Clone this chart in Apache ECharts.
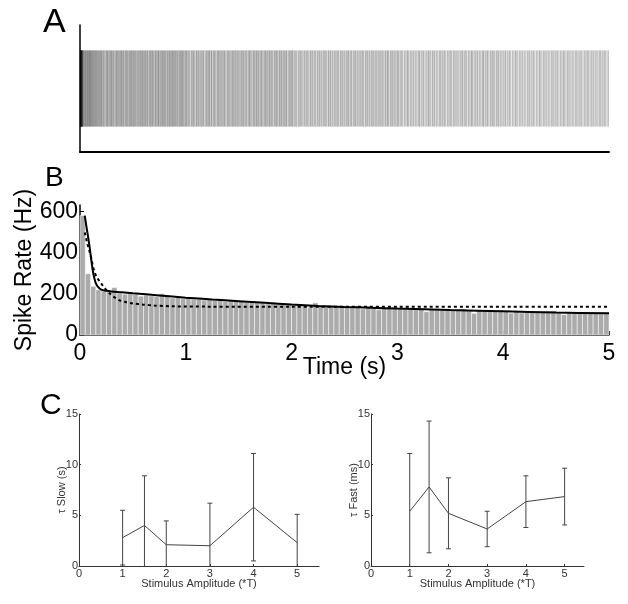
<!DOCTYPE html>
<html><head><meta charset="utf-8">
<script src="https://cdn.jsdelivr.net/npm/echarts@6/dist/echarts.min.js"></script>
<style>html,body{margin:0;padding:0;background:#fff}#c{width:628px;height:604px}</style>
</head><body><div id="c"></div><script>
// Panel A: spike times of the raster (ms)
const spikeTimesMs = [
3,4,5,6,7,8,9,10,11,12,13,14,15,16,17,18,19,20,21,23,25,27,30,33,37,41,45,49,
52,56,59,64,67,71,74,79,82,86,89,93,96,99,
103,107,111,114,118,123,126,130,135,139,143,147,
151,156,160,164,169,173,178,182,187,191,196,
200,205,207,215,219,225,228,235,244,247,252,258,260,267,271,279,284,287,293,
298,300,308,312,318,321,328,337,340,345,351,353,360,364,372,377,380,386,
391,393,401,405,411,414,421,430,433,438,444,446,453,457,465,470,473,479,484,486,494,498,
504,507,515,520,522,529,533,542,547,550,556,564,568,570,577,582,588,592,
596,602,607,614,616,620,628,634,637,642,651,655,662,664,669,677,680,686,
689,696,701,710,712,718,722,730,736,739,744,746,753,761,765,771,776,780,
786,789,797,802,804,811,815,824,829,832,838,846,850,852,859,864,870,874,
878,884,889,896,898,902,910,916,919,924,933,937,944,946,951,959,962,968,
971,978,983,992,994,1000,
1006,1009,1018,1023,1030,1033,1041,1052,1056,1062,1070,1072,1080,1085,1095,1101,1105,1112,
1119,1123,1129,1139,1144,1152,1154,1162,1168,1172,1183,1191,1194,1201,1206,1215,1218,1224,
1228,1237,1243,1245,1256,1261,1268,1271,1279,1285,1295,1299,1306,1309,1317,1322,1328,1336,
1342,1345,1354,1359,1366,1369,1377,1388,1392,1398,1406,1408,1416,1421,1431,1437,1441,1448,
1452,1461,1467,1469,1480,1485,1492,1495,1503,1509,1519,1523,1530,1533,1541,1546,1552,1560,
1567,1571,1577,1587,1592,1600,1602,1610,1616,1620,1631,1639,1642,1649,1654,1663,1666,1672,
1676,1685,1691,1693,1704,1709,1716,1719,1727,1733,1743,1747,1754,1757,1765,1770,1776,1784,
1790,1793,1802,1807,1814,1817,1825,1836,1840,1846,1854,1856,1864,1869,1879,1885,1889,1896,
1903,1907,1913,1923,1928,1936,1938,1946,1952,1956,1967,1975,1978,1985,1990,1999,
2003,2010,2013,2024,2030,2039,2043,2051,2063,2068,2075,2085,2088,2096,2102,2115,2120,2127,2136,2140,2150,2156,2164,2175,2180,2186,2195,2199,2210,2216,2224,2229,2241,2246,2253,2262,2266,2276,2282,2290,2301,2306,2314,2318,2327,2333,2345,2349,2357,2366,2369,2380,2386,2394,2405,2410,2417,2427,2431,2439,2444,2457,2462,2470,2478,2483,2493,2499,2507,2517,2522,2529,2538,2541,2552,2558,2566,2571,2583,2588,2595,2604,2608,2618,2624,2632,2643,2648,2655,2665,2668,2676,2682,2695,2700,2707,2716,2720,2730,2736,2744,2755,2760,2767,2776,2780,2791,2797,2805,2810,2822,2827,2834,2843,2847,2857,2863,2871,2882,2887,2894,2904,2907,2915,2921,2934,2939,2946,2955,2959,2969,2975,2983,2994,2999,
3006,3010,3022,3029,3039,3044,3052,3066,3072,3081,3092,3095,3104,3111,3124,3130,3138,3148,3153,3165,3172,3181,3193,3199,3208,3212,3224,3231,3241,3246,3254,3268,3274,3283,3294,3297,3306,3313,3326,3332,3340,3350,3355,3367,3374,3383,3395,3401,3410,3414,3426,3433,3443,3448,3456,3470,3476,3485,3496,3499,3508,3515,3528,3534,3542,3552,3557,3569,3576,3585,3597,3603,3612,3616,3628,3635,3645,3650,3658,3672,3678,3687,3698,3701,3710,3717,3730,3736,3744,3754,3759,3771,3778,3787,3799,3805,3814,3818,3830,3837,3847,3852,3860,3874,3880,3889,3900,3903,3912,3919,3932,3938,3946,3956,3961,3973,3980,3989,3999,
4007,4017,4022,4035,4043,4054,4060,4069,4084,4091,4101,4113,4117,4127,4135,4149,4156,4165,4176,4182,4195,4203,4213,4226,4233,4243,4248,4261,4269,4280,4286,4295,4310,4317,4327,4339,4343,4353,4361,4375,4382,4391,4402,4408,4421,4429,4439,4452,4459,4469,4474,4487,4495,4506,4512,4521,4536,4543,4553,4565,4569,4579,4587,4601,4608,4617,4628,4634,4647,4655,4665,4678,4685,4695,4700,4713,4721,4732,4738,4747,4762,4769,4779,4791,4795,4805,4813,4827,4834,4843,4854,4860,4873,4881,4891,4904,4911,4921,4926,4939,4947,4958,4964,4973,4988,4995
];

// Panel B: histogram (50 ms bins, Hz) and fits
const BIN_S = 0.05;
const rateHz = [
579,297,236,219,213,209,230,203,198,207,
197,188,193,190,186,200,193,180,182,176,
182,174,176,170,173,168,171,164,167,170,
162,159,162,157,160,152,156,150,154,148,
145,147,142,133,156,139,137,140,136,138,
135,133,141,127,139,131,123,130,131,128,
129,127,130,125,127,113,124,122,125,121,
120,122,127,119,105,118,117,119,115,116,
114,106,113,107,112,111,113,109,115,116,
108,99,107,106,108,112,104,105,103,104
];
const solidFitT = [0.045,0.06,0.075,0.09,0.105,0.12,0.135,0.15,0.17,0.2,0.25,0.3,0.4,0.5,0.75,1,1.25,1.5,1.75,2,2.25,2.5,2.75,3,3.5,4,4.5,5];
const solidFitHz = [579,528,480,430,371,315,276,250,233,220,214,211,207,202,192,181,172,164,156,148,141,136,132,128,121,115,109,105];
const dashedFitT = [0.045,0.07,0.09,0.106,0.12,0.137,0.16,0.2,0.24,0.28,0.32,0.37,0.43,0.5,0.6,0.7,0.87,1.2,2,3,4,5];
const dashedFitHz = [497,441,405,373,338,306,279,250,223,202,185,169,160,153,147,143,139,137.5,137,137,137,137];

// Panel C
const ampLevels = [1, 1.5, 2, 3, 4, 5];
const tauSlowMean = [2.8, 4.0, 2.1, 2.0, 5.8, 2.3];
const tauSlowErr  = [2.7, 4.9, 2.35, 4.2, 5.3, 2.8];
const tauFastMean = [5.4, 7.8, 5.2, 3.65, 6.35, 6.85];
const tauFastErr  = [5.7, 6.5, 3.5, 1.75, 2.55, 2.8];

const FONT = 'Liberation Sans, Arial, Helvetica, sans-serif';
const chart = echarts.init(document.getElementById('c'), null, {renderer: 'canvas'});

function zip(a, b) { return a.map((v, i) => [v, b[i]]); }

function errRender(params, api) {
  const x = api.value(0), m = api.value(1), e = api.value(2);
  const lo = Math.max(m - e, 0), hi = m + e;
  const top = api.coord([x, hi]);
  const bot = api.coord([x, lo]);
  const st = {stroke: '#444', lineWidth: 1};
  const ch = [
    {type: 'line', shape: {x1: top[0], y1: top[1], x2: bot[0], y2: bot[1]}, style: st},
    {type: 'line', shape: {x1: top[0] - 2.5, y1: top[1], x2: top[0] + 2.5, y2: top[1]}, style: st}
  ];
  if (m - e > 0) ch.push({type: 'line', shape: {x1: bot[0] - 2.5, y1: bot[1], x2: bot[0] + 2.5, y2: bot[1]}, style: st});
  return {type: 'group', children: ch};
}

const cAxisText = {fontFamily: FONT, fontSize: 11, color: '#333'};

const option = {
  animation: false,
  backgroundColor: '#fff',
  textStyle: {fontFamily: FONT},
  grid: [
    {left: 80, top: 25, width: 529, height: 127, outerBoundsMode: 'none'},
    {left: 80, top: 205, width: 529, height: 130, outerBoundsMode: 'none'},
    {left: 79, top: 414, width: 240, height: 152, outerBoundsMode: 'none'},
    {left: 371, top: 414, width: 213, height: 152, outerBoundsMode: 'none'}
  ],
  xAxis: [
    {gridIndex: 0, type: 'value', min: 0, max: 5,
     axisLine: {show: true, lineStyle: {color: '#000', width: 2}},
     axisTick: {show: false}, axisLabel: {show: false}, splitLine: {show: false}},
    {gridIndex: 1, type: 'value', min: 0, max: 5, interval: 1,
     axisLine: {show: true, lineStyle: {color: '#000', width: 1.5}},
     axisTick: {show: true, inside: true, length: 4, lineStyle: {color: '#000'}},
     axisLabel: {fontFamily: FONT, fontSize: 23, color: '#000', margin: 7},
     splitLine: {show: false},
     name: 'Time (s)', nameLocation: 'middle', nameGap: 21, nameMoveOverlap: false,
     nameTextStyle: {fontFamily: FONT, fontSize: 23, color: '#000'}},
    {gridIndex: 2, type: 'value', min: 0, max: 5.5, interval: 1,
     axisLine: {show: true, lineStyle: {color: '#333', width: 1}},
     axisTick: {show: true, inside: true, length: 2, lineStyle: {color: '#333'}},
     axisLabel: Object.assign({margin: 2, showMaxLabel: false}, cAxisText),
     splitLine: {show: false},
     name: 'Stimulus Amplitude (*T)', nameLocation: 'middle', nameGap: 12, nameMoveOverlap: false, nameTextStyle: cAxisText},
    {gridIndex: 3, type: 'value', min: 0, max: 5.5, interval: 1,
     axisLine: {show: true, lineStyle: {color: '#333', width: 1}},
     axisTick: {show: true, inside: true, length: 2, lineStyle: {color: '#333'}},
     axisLabel: Object.assign({margin: 2, showMaxLabel: false}, cAxisText),
     splitLine: {show: false},
     name: 'Stimulus Amplitude (*T)', nameLocation: 'middle', nameGap: 12, nameMoveOverlap: false, nameTextStyle: cAxisText}
  ],
  yAxis: [
    {gridIndex: 0, type: 'value', min: 0, max: 1,
     axisLine: {show: true, lineStyle: {color: '#000', width: 1.5}},
     axisTick: {show: false}, axisLabel: {show: false}, splitLine: {show: false}},
    {gridIndex: 1, type: 'value', min: 0, max: 630, interval: 200,
     axisLine: {show: true, lineStyle: {color: '#000', width: 1.5}},
     axisTick: {show: true, inside: true, length: 4, lineStyle: {color: '#000'}},
     axisLabel: {fontFamily: FONT, fontSize: 23, color: '#000', margin: 2, showMaxLabel: false},
     splitLine: {show: false},
     name: 'Spike Rate (Hz)', nameLocation: 'middle', nameGap: 44, nameRotate: 90, nameMoveOverlap: false,
     nameTextStyle: {fontFamily: FONT, fontSize: 23, color: '#000'}},
    {gridIndex: 2, type: 'value', min: 0, max: 15, interval: 5,
     axisLine: {show: true, lineStyle: {color: '#333', width: 1}},
     axisTick: {show: true, inside: true, length: 2, lineStyle: {color: '#333'}},
     axisLabel: Object.assign({margin: 1}, cAxisText),
     splitLine: {show: false},
     name: 'τ Slow (s)', nameLocation: 'middle', nameGap: 12, nameRotate: 90, nameMoveOverlap: false, nameTextStyle: cAxisText},
    {gridIndex: 3, type: 'value', min: 0, max: 15, interval: 5,
     axisLine: {show: true, lineStyle: {color: '#333', width: 1}},
     axisTick: {show: true, inside: true, length: 2, lineStyle: {color: '#333'}},
     axisLabel: Object.assign({margin: 1}, cAxisText),
     splitLine: {show: false},
     name: 'τ Fast (ms)', nameLocation: 'middle', nameGap: 12, nameRotate: 90, nameMoveOverlap: false, nameTextStyle: cAxisText}
  ],
  series: [
    {type: 'custom', xAxisIndex: 0, yAxisIndex: 0,
     data: spikeTimesMs.map(t => [t / 1000, 0.5]),
     encode: {x: 0, y: 1},
     renderItem: (p, api) => {
       const a = api.coord([api.value(0), 0.2]);
       const b = api.coord([api.value(0), 0.8]);
       return {type: 'line', shape: {x1: a[0], y1: a[1], x2: b[0], y2: b[1]},
               style: {stroke: 'rgba(0,0,0,0.21)', lineWidth: 1}};
     }},
    {type: 'custom', xAxisIndex: 1, yAxisIndex: 1,
     data: rateHz.map((v, i) => [i * BIN_S, (i + 1) * BIN_S, v]),
     encode: {x: [0, 1], y: 2},
     renderItem: (p, api) => {
       const a = api.coord([api.value(0), api.value(2)]);
       const b = api.coord([api.value(1), 0]);
       return {type: 'rect', shape: {x: a[0], y: a[1], width: b[0] - a[0], height: b[1] - a[1]},
               style: {fill: '#ababab', stroke: '#ffffff', lineWidth: 0.5}};
     }},
    {type: 'line', xAxisIndex: 1, yAxisIndex: 1, data: zip(dashedFitT, dashedFitHz),
     symbol: 'none', smooth: 0.3,
     lineStyle: {color: '#000', width: 2, type: [3, 3]}},
    {type: 'line', xAxisIndex: 1, yAxisIndex: 1, data: zip(solidFitT, solidFitHz),
     symbol: 'none', smooth: 0.3,
     lineStyle: {color: '#000', width: 2}},
    {type: 'line', xAxisIndex: 2, yAxisIndex: 2, data: zip(ampLevels, tauSlowMean),
     symbol: 'none', lineStyle: {color: '#444', width: 1}},
    {type: 'custom', xAxisIndex: 2, yAxisIndex: 2,
     data: ampLevels.map((x, i) => [x, tauSlowMean[i], tauSlowErr[i]]),
     encode: {x: 0, y: 1}, renderItem: errRender},
    {type: 'line', xAxisIndex: 3, yAxisIndex: 3, data: zip(ampLevels, tauFastMean),
     symbol: 'none', lineStyle: {color: '#444', width: 1}},
    {type: 'custom', xAxisIndex: 3, yAxisIndex: 3,
     data: ampLevels.map((x, i) => [x, tauFastMean[i], tauFastErr[i]]),
     encode: {x: 0, y: 1}, renderItem: errRender}
  ],
  graphic: [
    {type: 'text', left: 43, top: 6, style: {text: 'A', font: '34px ' + FONT, fill: '#000'}},
    {type: 'text', left: 45, top: 164, style: {text: 'B', font: '28px ' + FONT, fill: '#000'}},
    {type: 'text', left: 40, top: 391, style: {text: 'C', font: '30px ' + FONT, fill: '#000'}}
  ]
};
chart.setOption(option);
</script></body></html>
